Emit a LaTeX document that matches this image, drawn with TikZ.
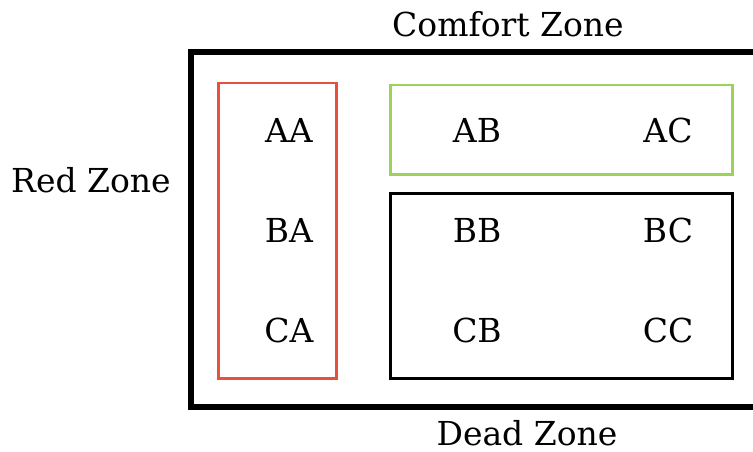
\documentclass[tikz,border=0pt]{standalone}
\usepackage{fontspec}
\setmainfont{DejaVu Serif}
\definecolor{zonered}{HTML}{E9503C}
\definecolor{zonegreen}{HTML}{9DD25A}
\tikzset{
  frame/.style={draw, line width=2.5pt, inner sep=0pt, anchor=north west},
  cell/.style={font=\fontsize{33}{38}\selectfont, inner sep=0pt},
  zonelabel/.style={font=\fontsize{33}{38}\selectfont, inner sep=0pt},
}
\begin{document}
\begin{tikzpicture}[x=1pt, y=1pt]
  \useasboundingbox (0,0) rectangle (753,-452);
  % outer comfort frame, open on the right where it leaves the page
  \draw[line width=5.5pt] (756,-52) -- (191,-52) -- (191,-407) -- (756,-407);
  % inner groups
  \node[frame, draw=zonered, minimum width=118pt, minimum height=295pt] (redbox) at (217,-82) {};
  \node[frame, draw=zonegreen, minimum width=342pt, minimum height=89pt] (greenbox) at (389,-84) {};
  \node[frame, draw=black, minimum width=342pt, minimum height=185pt] (deadbox) at (389,-192) {};
  % zone labels
  \node[zonelabel] (comfort) at (508,-24) {Comfort Zone};
  \node[zonelabel] (red) at (91,-180) {Red Zone};
  \node[zonelabel] (dead) at (527,-433) {Dead Zone};
  % grid cells
  \node[cell] (AA) at (289,-130) {AA};
  \node[cell] (AB) at (477,-130) {AB};
  \node[cell] (AC) at (668,-130) {AC};
  \node[cell] (BA) at (289,-230) {BA};
  \node[cell] (BB) at (477,-230) {BB};
  \node[cell] (BC) at (668,-230) {BC};
  \node[cell] (CA) at (289,-330) {CA};
  \node[cell] (CB) at (477,-330) {CB};
  \node[cell] (CC) at (668,-330) {CC};
\end{tikzpicture}
\end{document}
